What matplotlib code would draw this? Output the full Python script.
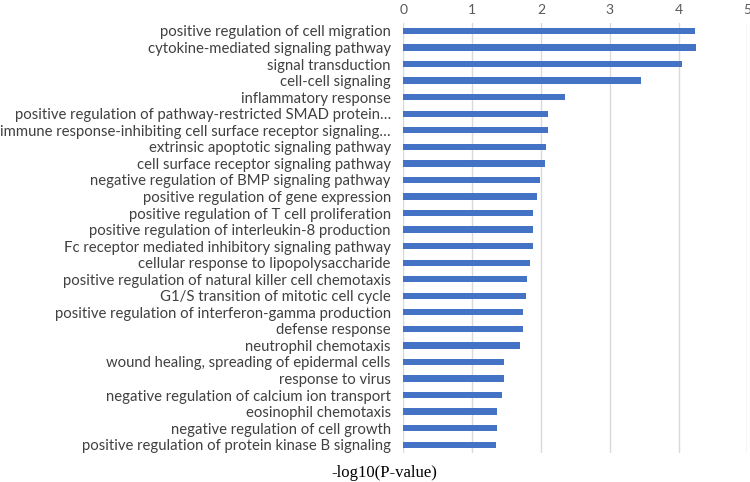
import matplotlib
matplotlib.use('Agg')
import matplotlib.pyplot as plt

# GO terms, top to bottom as shown in the chart
terms = [
    'positive regulation of cell migration',
    'cytokine-mediated signaling pathway',
    'signal transduction',
    'cell-cell signaling',
    'inflammatory response',
    'positive regulation of pathway-restricted SMAD protein\u2026',
    'immune response-inhibiting cell surface receptor signaling\u2026',
    'extrinsic apoptotic signaling pathway',
    'cell surface receptor signaling pathway',
    'negative regulation of BMP signaling pathway',
    'positive regulation of gene expression',
    'positive regulation of T cell proliferation',
    'positive regulation of interleukin-8 production',
    'Fc receptor mediated inhibitory signaling pathway',
    'cellular response to lipopolysaccharide',
    'positive regulation of natural killer cell chemotaxis',
    'G1/S transition of mitotic cell cycle',
    'positive regulation of interferon-gamma production',
    'defense response',
    'neutrophil chemotaxis',
    'wound healing, spreading of epidermal cells',
    'response to virus',
    'negative regulation of calcium ion transport',
    'eosinophil chemotaxis',
    'negative regulation of cell growth',
    'positive regulation of protein kinase B signaling',
]
neg_log_p = [4.24, 4.25, 4.05, 3.45, 2.35, 2.11, 2.10, 2.08, 2.06, 1.98,
             1.95, 1.89, 1.89, 1.88, 1.84, 1.80, 1.78, 1.74, 1.74, 1.70,
             1.47, 1.46, 1.44, 1.36, 1.36, 1.35]
xticks = [0, 1, 2, 3, 4, 5]

fig = plt.figure(figsize=(7.5, 4.82), dpi=100)
ax = fig.add_axes([403.3 / 750, 1 - 453 / 482, (747.3 - 403.3) / 750, (453 - 22.7) / 482])

pos = list(range(len(terms)))
ax.barh(pos, neg_log_p, height=0.38, color='#4472C4', zorder=3)
ax.set_ylim(len(terms) - 0.5, -0.5)
ax.set_xlim(0, 5)

ax.xaxis.tick_top()
ax.set_xticks(xticks)
ax.set_xticklabels([str(t) for t in xticks], fontsize=10, color='#595959',
                   family='Lato')
ax.tick_params(axis='x', length=0, pad=5)
ax.set_yticks(pos)
ax.set_yticklabels(terms, fontsize=10.7, color='#404040', family='Lato')
ax.tick_params(axis='y', length=0, pad=9)
ax.grid(axis='x', color='#d9d9d9', linewidth=1, zorder=0)
for s in ax.spines.values():
    s.set_visible(False)

fig.text(384 / 750, 1 - 473 / 482, '-log10(P-value)', ha='center', va='center',
         fontsize=12, family='Liberation Serif', color='black')

fig.savefig('out.png', dpi=100)
